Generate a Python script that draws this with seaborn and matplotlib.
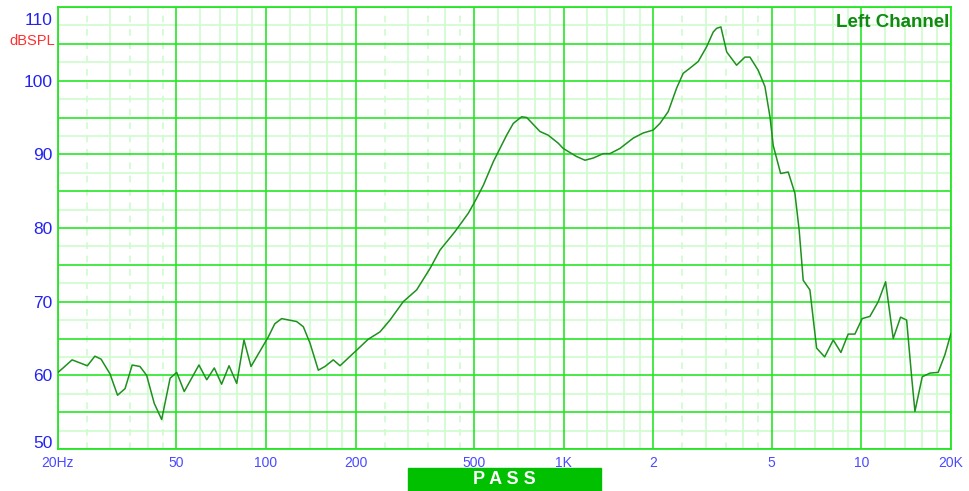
import matplotlib
matplotlib.use('Agg')
import matplotlib.pyplot as plt
import matplotlib.transforms as mtransforms
import seaborn as sns
import pandas as pd
from matplotlib.patches import Rectangle

# Frequency response (Hz, dB SPL)
freq_hz = [20, 20.8, 22.3, 25.1, 26.6, 27.9, 29.9, 31.7, 33.6, 35.5,
           37.7, 39.7, 42.1, 44.6, 47.6, 50.1, 53.1, 59.5, 63.2, 67.0,
           70.9, 75.1, 79.7, 84.3, 89.0, 94.2, 101.7, 107, 112.8, 126.7,
           133.4, 140.4, 149.8, 157.7, 168.2, 177.2, 198.9, 220.4, 241.4, 260.8,
           289, 320.6, 355.4, 384, 431, 478, 503, 537, 580, 643,
           677, 722, 751, 832, 887, 959, 996, 1105, 1179, 1257,
           1358, 1430, 1545, 1712, 1850, 1999, 2105, 2244, 2395, 2520,
           2655, 2830, 3020, 3178, 3263, 3373, 3527, 3808, 4062, 4222,
           4502, 4742, 4930, 5056, 5354, 5678, 5980, 6180, 6376, 6714,
           7072, 7526, 8044, 8534, 9028, 9510, 10060, 10680, 11390, 12060,
           12790, 13540, 14190, 14750, 15130, 16010, 16990, 18110, 19080, 20000]
spl_db = [60.4, 61.0, 62.1, 61.3, 62.6, 62.2, 60.2, 57.3, 58.2, 61.4,
          61.2, 60.0, 56.2, 54.0, 59.6, 60.4, 57.8, 61.4, 59.4, 61.0,
          58.8, 61.3, 58.9, 64.8, 61.2, 62.9, 65.2, 67.0, 67.7, 67.3,
          66.6, 64.4, 60.7, 61.2, 62.1, 61.3, 63.2, 64.9, 65.9, 67.5,
          70.0, 71.6, 74.5, 77.0, 79.5, 82.0, 83.6, 85.8, 89.0, 92.6,
          94.2, 95.1, 95.0, 93.1, 92.6, 91.5, 90.8, 89.7, 89.2, 89.5,
          90.1, 90.1, 90.8, 92.2, 92.9, 93.3, 94.2, 95.8, 99.0, 101.0,
          101.7, 102.6, 104.6, 106.6, 107.1, 107.3, 103.9, 102.1, 103.2, 103.2,
          101.4, 99.2, 95.1, 91.2, 87.4, 87.6, 84.7, 79.7, 72.9, 71.6,
          63.7, 62.5, 64.8, 63.1, 65.6, 65.6, 67.7, 68.0, 70.0, 72.7,
          65.0, 67.9, 67.5, 59.8, 55.1, 59.8, 60.3, 60.4, 62.8, 65.7]

# Axis ticks / grid positions
x_major = [20, 50, 100, 200, 500, 1000, 2000, 5000, 10000, 20000]
x_labels = ['20Hz', '50', '100', '200', '500', '1K', '2', '5', '10', '20K']
x_minor = [30, 40, 60, 70, 80, 90, 120, 140, 160, 180,
           300, 400, 600, 700, 800, 900, 1200, 1400, 1600, 1800,
           3000, 4000, 6000, 7000, 8000, 9000, 12000, 14000, 16000, 18000]
x_dashed = [25, 35, 45, 250, 350, 450, 2500, 3500, 4500]
y_major = [50, 55, 60, 65, 70, 75, 80, 85, 90, 95, 100, 105, 110]
y_minor = [52.5, 57.5, 62.5, 67.5, 72.5, 77.5, 82.5, 87.5, 92.5, 97.5, 102.5, 107.5]

BRIGHT = '#26e626'
LIGHT = '#cdfccd'

sns.set_style('white')
plt.rcParams['font.family'] = ['Liberation Sans', 'DejaVu Sans']

fig = plt.figure(figsize=(9.69, 4.91), dpi=100)
ax = fig.add_axes([58 / 969, 42 / 491, 893 / 969, 442 / 491])

df = pd.DataFrame({'freq': freq_hz, 'spl': spl_db})

# grid
for f in x_minor:
    ax.axvline(f, color=LIGHT, lw=1.2, zorder=0)
for f in x_dashed:
    ax.axvline(f, color=LIGHT, lw=1.2, ls=(0, (4, 4)), zorder=0)
for v in y_minor:
    ax.axhline(v, color=LIGHT, lw=1.2, zorder=0)
for f in x_major:
    ax.axvline(f, color=BRIGHT, lw=1.2, zorder=1)
for v in y_major:
    ax.axhline(v, color=BRIGHT, lw=1.2, zorder=1)

sns.lineplot(data=df, x='freq', y='spl', ax=ax, color='#1f901f', lw=1.1,
             sort=False, estimator=None, zorder=3)

ax.set_xscale('log')
ax.set_xlim(20, 20000)
ax.set_ylim(50, 110)
ax.set_xticks(x_major)
ax.set_xticklabels(x_labels)
ax.set_xticks([], minor=True)
ax.set_yticks(y_major)
ax.set_yticklabels([str(v) if v % 10 == 0 else '' for v in y_major])
ax.tick_params(axis='x', length=0, pad=5, labelsize=10, labelcolor='#4a4aff')
ax.tick_params(axis='y', length=0, pad=4, labelsize=12.5, labelcolor='#2323f0')
ax.set_xlabel('')
ax.set_ylabel('')
for s in ax.spines.values():
    s.set_color(BRIGHT)
    s.set_linewidth(1.3)

# end labels pulled inside the plot height, as in the original
ylabs = ax.get_yticklabels()
ylabs[-1].set_transform(ylabs[-1].get_transform() +
                        mtransforms.ScaledTranslation(0, -12 / 100, fig.dpi_scale_trans))
ylabs[0].set_transform(ylabs[0].get_transform() +
                       mtransforms.ScaledTranslation(0, 7 / 100, fig.dpi_scale_trans))

fig.text(55 / 969, 1 - 41 / 491, 'dBSPL', color='#ff3030', fontsize=10.5,
         ha='right', va='center')
ax.text(0.998, 0.985, 'Left Channel', transform=ax.transAxes, ha='right', va='top',
        fontsize=13.5, fontweight='bold', color='#108a10')

fig.patches.append(Rectangle((408 / 969, 0), 193 / 969, 23 / 491,
                             transform=fig.transFigure, color='#00c000'))
fig.text(504.5 / 969, 11.5 / 491, 'P A S S', color='white', fontsize=13,
         fontweight='bold', ha='center', va='center')

fig.savefig('out.png', dpi=100)
